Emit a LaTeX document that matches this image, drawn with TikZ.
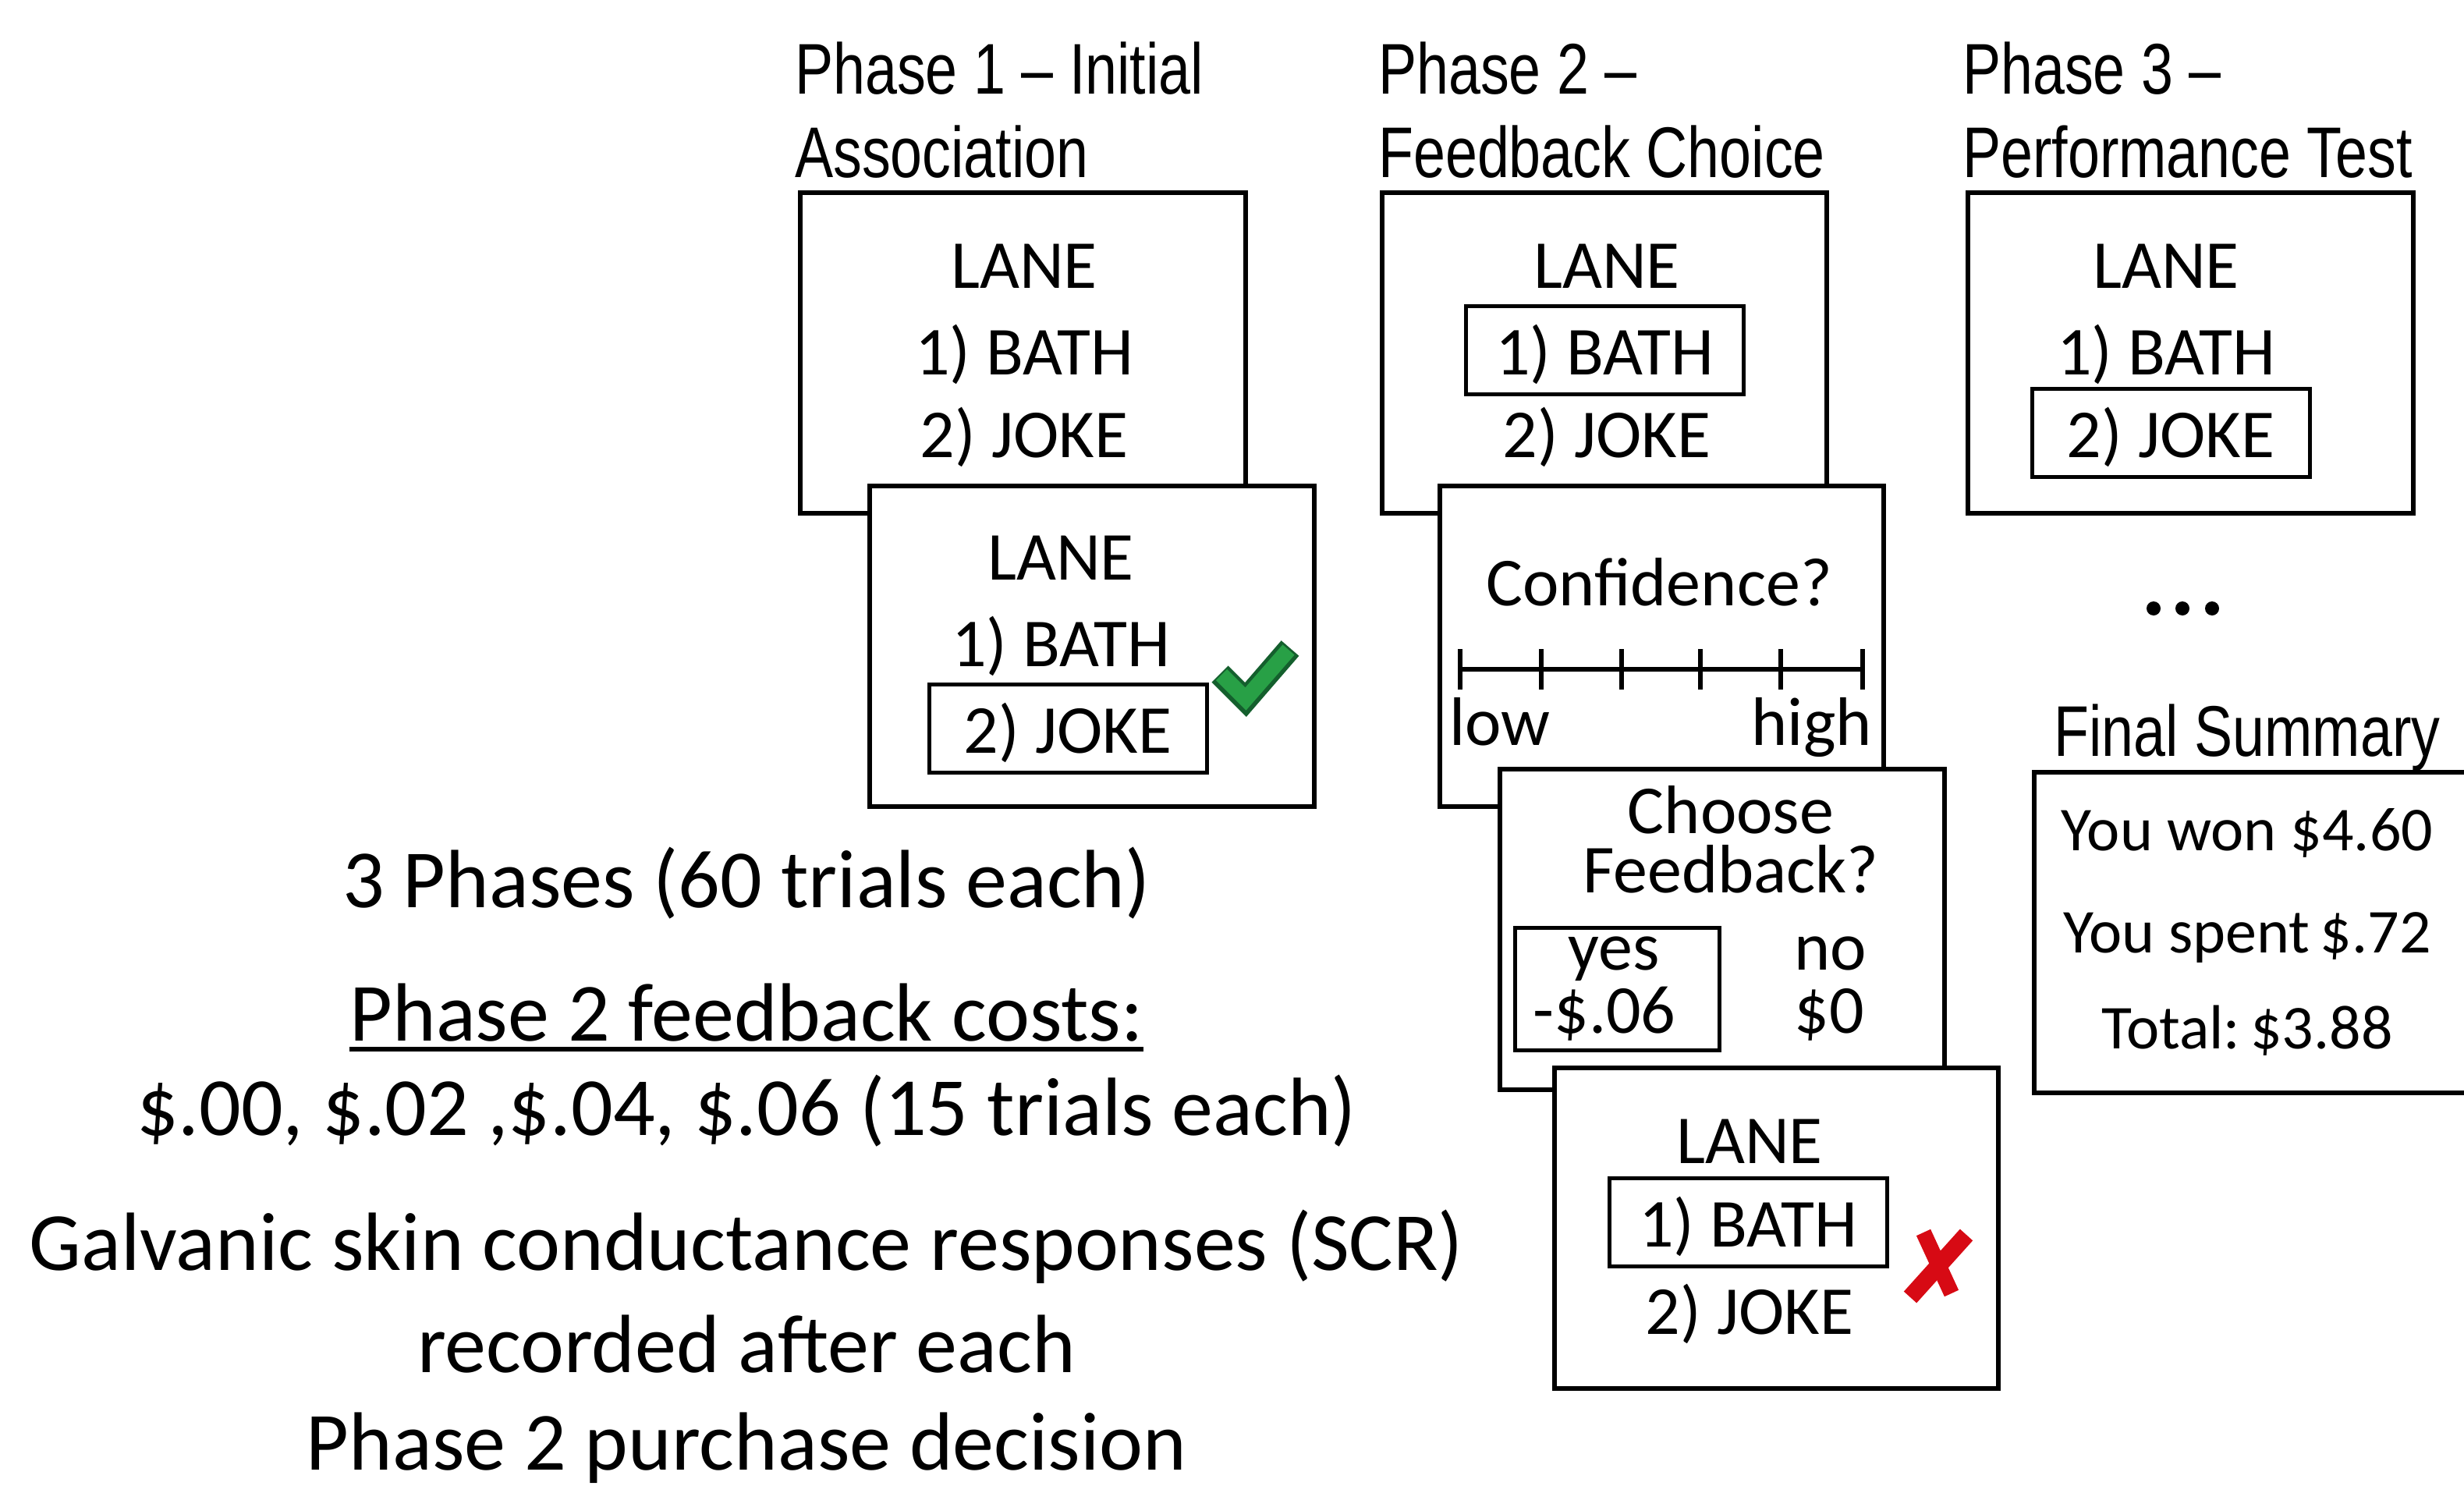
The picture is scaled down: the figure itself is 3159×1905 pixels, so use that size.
\documentclass[tikz,border=0pt]{standalone}
\usepackage{fontspec}
\setmainfont{Carlito}
\newfontfamily\narrowsans[FakeStretch=0.8]{Liberation Sans}
\definecolor{ckdark}{RGB}{20,95,45}
\definecolor{cklight}{RGB}{40,160,70}
\definecolor{xred}{RGB}{215,10,20}

\begin{document}
\begin{tikzpicture}[x=1pt,y=-1pt,
  frame/.style={draw, line width=6pt, fill=white, inner sep=0pt, anchor=north west},
  selbox/.style={draw, line width=5pt, inner sep=0pt, text height=88pt, text depth=25pt,
                 minimum width=356pt, anchor=base, font=\fontsize{88}{96}\selectfont},
  word/.style={inner sep=0pt, anchor=base, font=\fontsize{88}{96}\selectfont},
  ttl/.style={inner sep=0pt, anchor=base west, font=\narrowsans\fontsize{92}{100}\selectfont},
  big/.style={inner sep=0pt, anchor=base, font=\fontsize{106}{120}\selectfont},
  summ/.style={inner sep=0pt, anchor=base, font=\fontsize{80}{90}\selectfont},
]
\useasboundingbox (0,0) rectangle (3159,1905);
\clip (0,0) rectangle (3159,1905);

% ---------- Phase 1 ----------
\node[ttl] (t1a) at (1019,121) {Phase 1 – Initial};
\node[ttl] (t1b) at (1019,228) {Association};
\node[frame, minimum width=571pt, minimum height=411pt] (p1a) at (1023,244) {};
\node[word] (p1a1) at (1313,369) {LANE};
\node[word] (p1a2) at (1313,480) {1) BATH};
\node[word] (p1a3) at (1313,586) {2) JOKE};

\node[frame, minimum width=570pt, minimum height=411pt] (p1b) at (1112,620) {};
\node[word] (p1b1) at (1360,743) {LANE};
\node[word] (p1b2) at (1360,854) {1) BATH};
\node[selbox] (p1b3) at (1369,965) {2) JOKE};
% tick mark
\draw[line width=30pt, color=ckdark] (1564,864) -- (1597,897) -- (1654,831);
\draw[line width=20pt, color=cklight] (1566,865) -- (1597,896) -- (1652,833);

% ---------- Phase 2 ----------
\node[ttl] (t2a) at (1767,121) {Phase 2 –};
\node[ttl] (t2b) at (1767,228) {Feedback Choice};
\node[frame, minimum width=570pt, minimum height=411pt] (p2a) at (1769,244) {};
\node[word] (p2a1) at (2060,369) {LANE};
\node[selbox] (p2a2) at (2057,480) {1) BATH};
\node[word] (p2a3) at (2060,586) {2) JOKE};

\node[frame, minimum width=569pt, minimum height=411pt] (p2b) at (1843,620) {};
\node[word] (conf) at (2127,776) {Confidence?};
\draw[line width=6pt] (1872,858) -- (2388,858);
\foreach \tx in {1872,1976,2079,2180,2283,2388}
  \draw[line width=6pt] (\tx,832) -- (\tx,884);
\node[word, anchor=base west] (low) at (1858,955) {low};
\node[word, anchor=base east] (high) at (2400,955) {high};

\node[frame, minimum width=570pt, minimum height=411pt] (p2c) at (1920,983) {};
\node[word, align=center, font=\fontsize{88}{76}\selectfont] (choose) at (2219,1144) {Choose\\Feedback?};
\node[draw, line width=5pt, anchor=north west, minimum width=262pt, minimum height=157pt, inner sep=0pt]
  (yesbox) at (1940,1187) {};
\node[word, text height=40pt, text depth=0pt] (yes1) at (2069,1243) {yes};
\node[word, text height=58pt] (yes2) at (2057,1324) {-\$.06};
\node[word, text depth=0pt] (no1) at (2347,1243) {no};
\node[word, text height=58pt] (no2) at (2345,1324) {\$0};

\node[frame, minimum width=569pt, minimum height=411pt] (p2d) at (1990,1366) {};
\node[word] (p2d1) at (2243,1491) {LANE};
\node[selbox] (p2d2) at (2241,1598) {1) BATH};
\node[word] (p2d3) at (2243,1710) {2) JOKE};
% cross mark
\draw[line width=22pt, color=xred] (2521,1583) -- (2449,1663);
\draw[line width=20pt, color=xred] (2466,1580) -- (2502,1658);

% ---------- Phase 3 ----------
\node[ttl] (t3a) at (2516,121) {Phase 3 –};
\node[ttl] (t3b) at (2516,228) {Performance Test};
\node[frame, minimum width=571pt, minimum height=411pt] (p3a) at (2520,244) {};
\node[word] (p3a1) at (2777,369) {LANE};
\node[word] (p3a2) at (2777,480) {1) BATH};
\node[selbox] (p3a3) at (2783,586) {2) JOKE};

\foreach \dx in {2761,2798,2836}
  \fill (\dx,780) circle (9);

\node[ttl, anchor=base] (fs) at (2881,969) {Final Summary};
\node[frame, minimum width=700pt, minimum height=411pt] (sum) at (2605,987) {};
\node[summ] (s1) at (2881,1090) {You won \$4.60};
\node[summ] (s2) at (2881,1221) {You spent\,\$.72};
\node[summ] (s3) at (2881,1344) {Total:\,\$3.88};

% ---------- Notes ----------
\node[big] (n1) at (957,1163) {3 Phases (60 trials each)};
\node[big] (n2) at (957,1334) {Phase 2 feedback costs:};
\draw[line width=6pt] ([yshift=-11pt]n2.base west) -- ([yshift=-11pt]n2.base east);
\node[big] (n3) at (957,1455) {\$.00, \$.02 ,\$.04, \$.06 (15 trials each)};
\node[big] (n4) at (957,1628) {Galvanic skin conductance responses (SCR)};
\node[big] (n5) at (957,1759) {recorded after each};
\node[big] (n6) at (957,1884) {Phase 2 purchase decision};
\end{tikzpicture}
\end{document}
